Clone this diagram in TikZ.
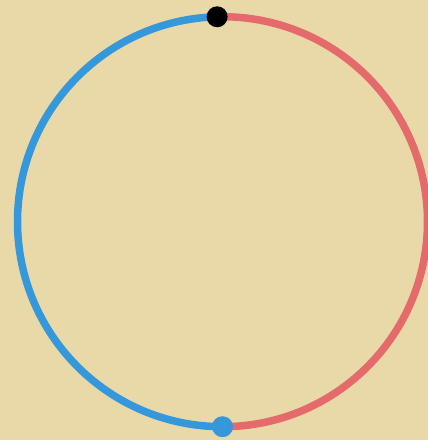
\documentclass[tikz,border=0pt]{standalone}
\usepackage{xcolor}
\definecolor{parchment}{HTML}{E9D9A8}
\definecolor{leftarc}{HTML}{3498DB}
\definecolor{rightarc}{HTML}{E46A6B}
\usepackage{tikz}
\usetikzlibrary{calc}

\begin{document}
\begin{tikzpicture}[x=1pt, y=1pt,
    ring/.style={line width=7.5pt},
    dot/.style={circle, inner sep=0pt, minimum size=21pt}]
  % background and frame
  \fill[parchment] (0,0) rectangle (428,440);
  \useasboundingbox (0,0) rectangle (428,440);
  \clip (0,0) rectangle (428,440);

  \coordinate (centre) at (222.5,218.3);

  % the two halves of the ring
  \draw[ring, color=leftarc]  ($(centre)+(91.5:205)$)
    arc[start angle=91.5, end angle=270, radius=205];
  \draw[ring, color=rightarc] ($(centre)+(-90:205)$)
    arc[start angle=-90, end angle=91.5, radius=205];

  \node[dot, fill=black]   (topdot)    at ($(centre)+(91.5:205)$) {};
  \node[dot, fill=leftarc] (bottomdot) at ($(centre)+(270:205)$) {};
\end{tikzpicture}
\end{document}
